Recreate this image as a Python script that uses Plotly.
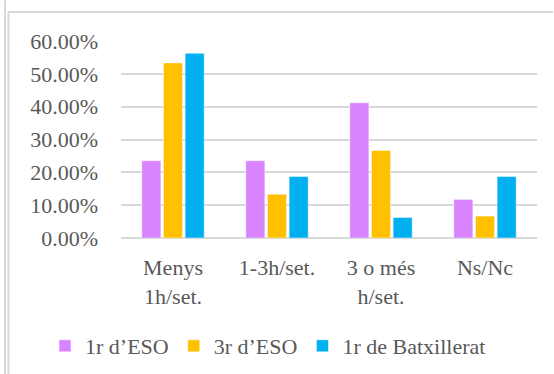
import plotly.graph_objects as go

categories = ["Menys<br>1h/set.", "1-3h/set.", "3 o més<br>h/set.", "Ns/Nc"]
series_names = ["1r d’ESO", "3r d’ESO", "1r de Batxillerat"]
eso1 = [0.2353, 0.2353, 0.4118, 0.1176]
eso3 = [0.5333, 0.1333, 0.2667, 0.0667]
batx1 = [0.5625, 0.1875, 0.0625, 0.1875]
y_ticks = [0, 0.1, 0.2, 0.3, 0.4, 0.5, 0.6]

colors = ["#D883FF", "#FFC000", "#00B0F0"]
font = dict(family="Liberation Serif", size=22, color="#595959")

W, H = 554, 374
L, R, T, B = 121, 17, 41, 136
pw, ph = W - L - R, H - T - B

fig = go.Figure()
for name, vals, c in zip(series_names, [eso1, eso3, batx1], colors):
    fig.add_trace(go.Bar(x=categories, y=vals, name=name,
                         marker=dict(color=c, line=dict(color="rgba(255,255,255,0.6)", width=0.8))))

def px_x(x):
    return (x - L) / pw

def px_y(y):
    return (H - B - y) / ph

shapes = [
    dict(type="line", xref="paper", yref="paper", x0=px_x(5), x1=px_x(5), y0=px_y(0), y1=px_y(374),
         line=dict(color="#d9d9d9", width=2)),
    dict(type="line", xref="paper", yref="paper", x0=px_x(8.5), x1=px_x(8.5), y0=px_y(12), y1=px_y(374),
         line=dict(color="#d9d9d9", width=2)),
    dict(type="line", xref="paper", yref="paper", x0=px_x(8), x1=px_x(553), y0=px_y(12), y1=px_y(12),
         line=dict(color="#d9d9d9", width=2)),
]

fig.update_layout(
    width=W, height=H,
    margin=dict(l=L, r=R, t=T, b=B, pad=0, autoexpand=False),
    paper_bgcolor="white", plot_bgcolor="white",
    font=font,
    barmode="group", bargap=0.375, bargroupgap=0.12,
    showlegend=True,
    legend=dict(orientation="h", x=px_x(45), xanchor="left", y=px_y(346), yanchor="middle",
                font=font, traceorder="normal", bgcolor="rgba(0,0,0,0)"),
    shapes=shapes,
    xaxis=dict(showgrid=False, showline=False, zeroline=False, ticks="",
               ticklabelstandoff=14, tickfont=font),
    yaxis=dict(range=[0, 0.6], tickvals=y_ticks, tickformat=".2%",
               showgrid=True, gridcolor="#d9d9d9", gridwidth=2,
               zeroline=True, zerolinecolor="#d9d9d9", zerolinewidth=2,
               showline=False, ticks="", ticklabelstandoff=22, tickfont=font),
)

fig.write_html("out.html")
